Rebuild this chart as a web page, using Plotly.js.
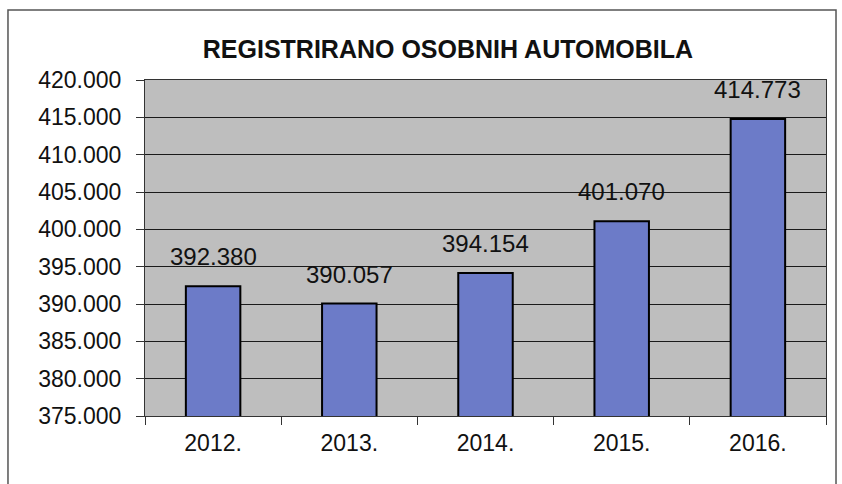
<!DOCTYPE html>
<html>
<head>
<meta charset="utf-8">
<script src="https://cdn.plot.ly/plotly-3.0.1.min.js"></script>
<style>
  body { margin: 0; background: #ffffff; }
  #regPlot { width: 842px; height: 484px; }
</style>
</head>
<body>
<div id="regPlot"></div>
<script>
// Years shown on the x axis
const years = ["2012.", "2013.", "2014.", "2015.", "2016."];

// Registered passenger cars per year
const registered = [392380, 390057, 394154, 401070, 414773];

// y axis ticks
const yTicks = [375000, 380000, 385000, 390000, 395000, 400000, 405000, 410000, 415000, 420000];

function drawChart() {
  const carData = [{
    x: years,
    y: registered,
    type: "bar",
    marker: {color: "#6c7bc8", line: {color: "#000000", width: 2}},
    hoverinfo: "none"
  }];

  // value labels sit a bit above each bar, like the original
  // (x is the category index so the category axis is not confused)
  const labelFmt = new Intl.NumberFormat("de-DE");
  const valueLabels = registered.map(function (val, i) {
    return {
      x: i,
      y: val,
      xref: "x",
      yref: "y",
      text: labelFmt.format(val),
      showarrow: false,
      yanchor: "bottom",
      yshift: 14,
      font: {family: "Arial, Liberation Sans", size: 24, color: "#111111"}
    };
  });

  const layout = {
    width: 842,
    height: 484,
    margin: {l: 145, r: 16, t: 80, b: 68},
    separators: ",.",
    paper_bgcolor: "#ffffff",
    plot_bgcolor: "#bebebe",
    bargap: 0.6,
    showlegend: false,
    title: {
      text: "<b>REGISTRIRANO OSOBNIH AUTOMOBILA</b>",
      font: {family: "Liberation Sans Narrow, Arial Narrow, Arial", size: 25, color: "#111111"},
      xref: "container",
      x: 0.532,
      xanchor: "center",
      yref: "container",
      y: 0.899,
      yanchor: "middle"
    },
    xaxis: {
      type: "category",
      range: [-0.5, 4.5],
      tickson: "boundaries",
      ticks: "outside",
      ticklen: 8,
      tickcolor: "#333333",
      ticklabelstandoff: 6,
      tickangle: 0,
      showgrid: false,
      showline: true,
      linecolor: "#333333",
      linewidth: 1,
      mirror: true,
      tickfont: {family: "Arial, Liberation Sans", size: 23, color: "#111111"}
    },
    yaxis: {
      range: [375000, 420000],
      tickvals: yTicks,
      tickformat: ",d",
      ticks: "outside",
      ticklen: 8,
      tickcolor: "#333333",
      ticklabelstandoff: 10,
      showgrid: true,
      gridcolor: "#1a1a1a",
      gridwidth: 1,
      showline: true,
      linecolor: "#333333",
      linewidth: 1,
      mirror: true,
      zeroline: false,
      tickfont: {family: "Arial, Liberation Sans", size: 23, color: "#111111"}
    },
    annotations: valueLabels,
    shapes: [{
      // outer frame of the scanned chart
      type: "rect",
      xref: "paper",
      yref: "paper",
      x0: -0.2012,
      x1: 1.0147,
      y0: -0.25,
      y1: 1.2083,
      line: {color: "#555555", width: 1.5},
      layer: "below"
    }]
  };

  Plotly.newPlot("regPlot", carData, layout, {displayModeBar: false, staticPlot: true});
}

drawChart();
</script>
</body>
</html>
